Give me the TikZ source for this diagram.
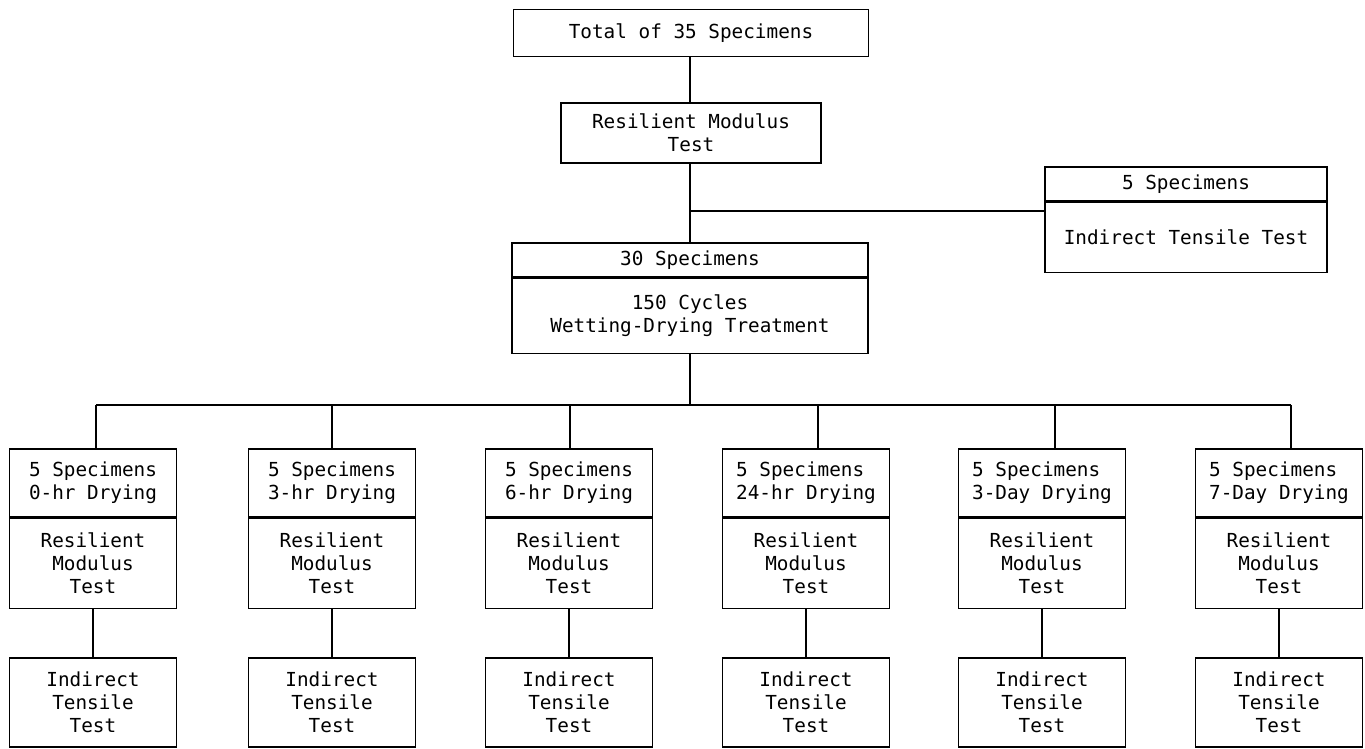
\documentclass[tikz,border=0pt]{standalone}
\usepackage{fontspec}
\setmonofont{DejaVu Sans Mono}
\usetikzlibrary{positioning}

\begin{document}
\begin{tikzpicture}[x=0.02cm, y=-0.02cm, node distance=0.96cm, line width=0.9pt,
  every node/.style={draw, rectangle, inner sep=0pt, align=center, font=\ttfamily\fontsize{11}{13}\selectfont},
  head/.style={minimum width=3.34cm, minimum height=1.36cm, align=left},
  body/.style={minimum width=3.34cm, minimum height=1.8cm},
  tail/.style={minimum width=3.34cm, minimum height=1.78cm}]
  \useasboundingbox (0,0) rectangle (1365,749);

  % upper part of the tree
  \node (total) at (691,33) [minimum width=7.1cm, minimum height=0.94cm] {Total of 35 Specimens};
  \node (rm) at (691,133) [minimum width=5.2cm, minimum height=1.2cm] {Resilient Modulus\\Test};
  \node (wd) at (690,260) [minimum width=7.12cm, minimum height=0.68cm] {30 Specimens};
  \node (wdlow) [below=0pt of wd, minimum width=7.12cm, minimum height=1.5cm] {150 Cycles\\Wetting-Drying Treatment};
  \node (side) at (1186,184) [minimum width=5.64cm, minimum height=0.68cm] {5 Specimens};
  \node (sidelow) [below=0pt of side, minimum width=5.64cm, minimum height=1.4cm] {Indirect Tensile Test};

  % drying groups
  \node (spec1) at (93,483) [head] {5 Specimens\\0-hr Drying};
  \node (spec2) at (332,483) [head] {5 Specimens\\3-hr Drying};
  \node (spec3) at (569,483) [head] {5 Specimens\\6-hr Drying};
  \node (spec4) at (806,483) [head] {5 Specimens\\24-hr Drying};
  \node (spec5) at (1042,483) [head] {5 Specimens\\3-Day Drying};
  \node (spec6) at (1279,483) [head] {5 Specimens\\7-Day Drying};
  \node (rm1) [body, below=0pt of spec1] {Resilient\\Modulus\\Test};
  \node (rm2) [body, below=0pt of spec2] {Resilient\\Modulus\\Test};
  \node (rm3) [body, below=0pt of spec3] {Resilient\\Modulus\\Test};
  \node (rm4) [body, below=0pt of spec4] {Resilient\\Modulus\\Test};
  \node (rm5) [body, below=0pt of spec5] {Resilient\\Modulus\\Test};
  \node (rm6) [body, below=0pt of spec6] {Resilient\\Modulus\\Test};
  \node (idt1) [tail, below=of rm1] {Indirect\\Tensile\\Test};
  \node (idt2) [tail, below=of rm2] {Indirect\\Tensile\\Test};
  \node (idt3) [tail, below=of rm3] {Indirect\\Tensile\\Test};
  \node (idt4) [tail, below=of rm4] {Indirect\\Tensile\\Test};
  \node (idt5) [tail, below=of rm5] {Indirect\\Tensile\\Test};
  \node (idt6) [tail, below=of rm6] {Indirect\\Tensile\\Test};

  \path (690,211) coordinate (branch);
  \path (690,405) coordinate (bus);
  \path (96,405) coordinate (d1);
  \path (332,405) coordinate (d2);
  \path (570,405) coordinate (d3);
  \path (818,405) coordinate (d4);
  \path (1055,405) coordinate (d5);
  \path (1291,405) coordinate (d6);

  \draw (total.south -| wd.north) -- (rm.north -| wd.north);
  \draw (rm.south -| wd.north) -- (wd.north);
  \draw (branch) -- (branch -| sidelow.west);
  \draw (wdlow.south) -- (bus);
  \draw (d1) -- (d6);
  \draw (d1) -- (d1 |- spec1.north);
  \draw (d2) -- (d2 |- spec2.north);
  \draw (d3) -- (d3 |- spec3.north);
  \draw (d4) -- (d4 |- spec4.north);
  \draw (d5) -- (d5 |- spec5.north);
  \draw (d6) -- (d6 |- spec6.north);
  \draw (rm1) -- (idt1);
  \draw (rm2) -- (idt2);
  \draw (rm3) -- (idt3);
  \draw (rm4) -- (idt4);
  \draw (rm5) -- (idt5);
  \draw (rm6) -- (idt6);
\end{tikzpicture}
\end{document}
